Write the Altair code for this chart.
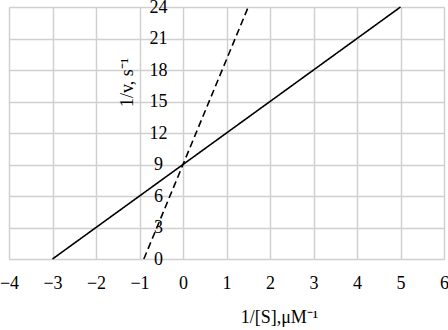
import altair as alt
import pandas as pd

# Lineweaver-Burk lines (endpoints)
solid_x = [-3.0, 5.0]
solid_y = [0.0, 24.0]
dashed_x = [-0.9, 1.5]
dashed_y = [0.0, 24.0]

x_ticks = [-4, -3, -2, -1, 0, 1, 2, 3, 4, 5, 6]
y_ticks = [0, 3, 6, 9, 12, 15, 18, 21, 24]

df = pd.DataFrame({
    "x": solid_x + dashed_x,
    "y": solid_y + dashed_y,
    "series": ["solid"] * 2 + ["dashed"] * 2,
})

FONT = "Liberation Serif"
FS = 18
W, H = 435, 252

xscale = alt.Scale(domain=[-4, 6], nice=False, zero=False)
yscale = alt.Scale(domain=[0, 24], nice=False, zero=False)

chart = alt.Chart(df).mark_line(color="black", strokeWidth=1.6).encode(
    x=alt.X("x:Q", scale=xscale, axis=alt.Axis(
        values=x_ticks, grid=True, gridColor="#d0d0d0", gridWidth=1.5,
        domain=False, ticks=False, labelFont=FONT, labelFontSize=FS,
        labelColor="black", labelPadding=15, labelFlush=False,
        labelOverlap=False,
        title="1/[S],μM⁻¹", titleFont=FONT, titleFontSize=FS,
        titleFontWeight="normal", titleColor="black",
        titleX=270, titleY=58, titleBaseline="middle", titleAlign="center")),
    y=alt.Y("y:Q", scale=yscale, axis=alt.Axis(
        values=y_ticks, grid=True, gridColor="#d0d0d0", gridWidth=1.5,
        domain=False, ticks=False, offset=-174, labelFont=FONT,
        labelFontSize=FS, labelColor="black", labelAlign="center",
        labelPadding=25, labelBaseline="middle", labelFlush=False,
        labelOverlap=False,
        title="1/v, s⁻¹", titleFont=FONT, titleFontSize=FS,
        titleFontWeight="normal", titleColor="black",
        titleX=-56, titleY=75, titleBaseline="middle", titleAlign="center")),
    strokeDash=alt.StrokeDash("series:N", scale=alt.Scale(
        domain=["solid", "dashed"], range=[[1, 0], [7, 4]]), legend=None),
).properties(
    width=W, height=H,
    autosize=alt.AutoSizeParams(type="none"),
    padding={"left": 9, "top": 7, "right": 4, "bottom": 71},
).configure_view(stroke=None).configure(background="white")

chart.save("out.html", embed_options={"renderer": "svg", "actions": False})
